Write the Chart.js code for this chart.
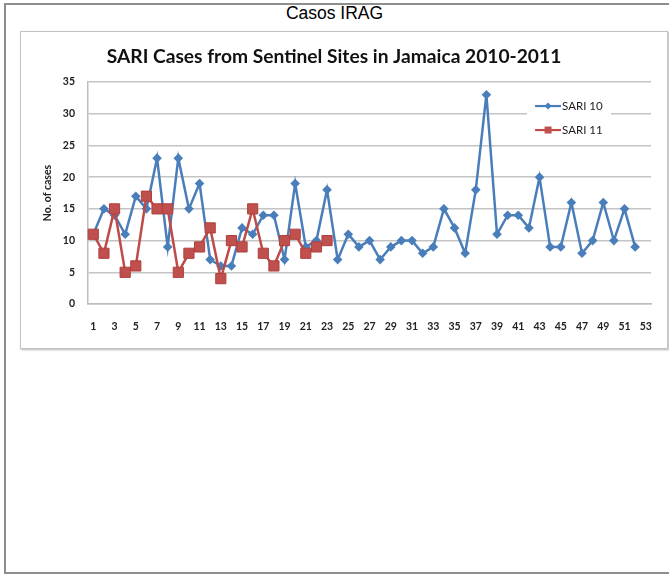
<!DOCTYPE html>
<html>
<head>
<meta charset="utf-8">
<script src="https://cdn.jsdelivr.net/npm/chart.js@4/dist/chart.umd.min.js"></script>
<style>
  html, body { margin: 0; padding: 0; background: #fff; overflow: hidden; }
  body { width: 669px; height: 574px; position: relative; }
  #frame { position: absolute; left: 4px; top: 3px; width: 720px; height: 571px;
           box-sizing: border-box; border: 2px solid #8e8e8e; }
  #heading { position: absolute; left: 0; width: 669px; top: 3px; text-align: center;
             font-family: "Liberation Sans", Arial, sans-serif; font-size: 17.5px; color: #000; }
  #panel { position: absolute; left: 20px; top: 31px; width: 648px; height: 318px;
           box-sizing: border-box; border: 1px solid #c4c4c4; background: #fff;
           box-shadow: 1px 1px 2px rgba(0,0,0,0.3); }
  #chart { position: absolute; left: 16px; top: 32px; }
</style>
</head>
<body>
<div id="frame"></div>
<div id="heading">Casos IRAG</div>
<div id="panel"></div>
<canvas id="chart" width="652" height="316"></canvas>
<script>
// Epidemiological weeks
const weeks = ['1','2','3','4','5','6','7','8','9','10','11','12','13','14','15','16','17','18',
  '19','20','21','22','23','24','25','26','27','28','29','30','31','32','33','34','35','36',
  '37','38','39','40','41','42','43','44','45','46','47','48','49','50','51','52','53'];

// Weekly SARI cases, 2010
const sari10 = [11, 15, 14, 11, 17, 15, 23, 9, 23, 15, 19, 7, 6, 6, 12, 11, 14, 14, 7, 19,
  9, 10, 18, 7, 11, 9, 10, 7, 9, 10, 10, 8, 9, 15, 12, 8, 18, 33, 11, 14, 14, 12, 20, 9,
  9, 16, 8, 10, 16, 10, 15, 9];

// Weekly SARI cases, 2011 (to date)
const sari11 = [11, 8, 15, 5, 6, 17, 15, 15, 5, 8, 9, 12, 4, 10, 9, 15, 8, 6, 10, 11, 8, 9, 10];

const yTicks = [0, 5, 10, 15, 20, 25, 30, 35];

const seriesNames = ['SARI 10', 'SARI 11'];

const BLUE = '#4a7ebb';
const RED = '#be4b48';

// Legend drawn inside the plot area, with a white box over the gridlines
const insetLegend = {
  id: 'insetLegend',
  afterDatasetsDraw(chart, args, opts) {
    const { ctx, chartArea } = chart;
    const r = chartArea.right, t = chartArea.top;
    ctx.save();
    ctx.fillStyle = '#ffffff';
    ctx.fillRect(r - 124, t + 10, 84, 50);
    chart.data.datasets.forEach((ds, i) => {
      const y = t + 24 + i * 24;
      const x1 = r - 116, x2 = r - 90, xm = (x1 + x2) / 2;
      ctx.strokeStyle = ds.borderColor;
      ctx.lineWidth = 2.2;
      ctx.beginPath();
      ctx.moveTo(x1, y); ctx.lineTo(x2, y);
      ctx.stroke();
      ctx.fillStyle = ds.backgroundColor;
      ctx.beginPath();
      if (ds.pointStyle === 'rectRot') {
        ctx.moveTo(xm, y - 3.5); ctx.lineTo(xm + 3.5, y); ctx.lineTo(xm, y + 3.5); ctx.lineTo(xm - 3.5, y);
        ctx.closePath();
      } else {
        ctx.rect(xm - 3.5, y - 3.5, 7, 7);
      }
      ctx.fill();
      ctx.fillStyle = '#222';
      ctx.font = '11.5px Lato, "Liberation Sans", sans-serif';
      ctx.textBaseline = 'middle';
      ctx.textAlign = 'left';
      ctx.fillText(ds.label, x2 + 1, y + 0.5);
    });
    ctx.restore();
  }
};

new Chart(document.getElementById('chart'), {
  type: 'line',
  data: {
    labels: weeks,
    datasets: [
      {
        label: seriesNames[0],
        data: sari10,
        borderColor: BLUE,
        backgroundColor: BLUE,
        borderWidth: 2.5,
        pointStyle: 'rectRot',
        pointRadius: 4.8,
        pointBorderWidth: 0,
        tension: 0,
        order: 1
      },
      {
        label: seriesNames[1],
        data: sari11,
        borderColor: RED,
        backgroundColor: '#c0504d',
        pointBorderColor: '#b0403d',
        borderWidth: 2.5,
        pointStyle: 'rect',
        pointRadius: 7.2,
        pointBorderWidth: 1,
        tension: 0,
        order: 0
      }
    ]
  },
  options: {
    responsive: false,
    animation: false,
    layout: { padding: { left: 0, right: 16, top: 0, bottom: 0 } },
    plugins: {
      legend: { display: false },
      tooltip: { enabled: false },
      title: {
        display: true,
        text: 'SARI Cases from Sentinel Sites in Jamaica 2010-2011',
        color: '#111',
        font: { family: 'Lato, "Liberation Sans", sans-serif', size: 19.2, weight: 'bold' },
        padding: { top: 13.5, bottom: 13.5 }
      }
    },
    scales: {
      x: {
        offset: true,
        grid: { display: false, drawTicks: false },
        border: { display: true, color: '#bdbdbd', width: 1.5 },
        ticks: {
          autoSkip: false,
          maxRotation: 0,
          padding: 16,
          color: '#222',
          font: { family: 'Lato, "Liberation Sans", sans-serif', size: 10.5, weight: 'bold' },
          callback: function (v, i) { return i % 2 === 0 ? weeks[i] : ''; }
        },
        afterFit: s => { s.height = 44; }
      },
      y: {
        min: 0,
        max: 35,
        afterBuildTicks: s => { s.ticks = yTicks.map(v => ({ value: v })); },
        grid: { color: '#c4c4c4', lineWidth: 1.5, drawTicks: false },
        border: { display: true, color: '#bdbdbd', width: 1.5 },
        ticks: {
          padding: 13,
          color: '#222',
          font: { family: 'Lato, "Liberation Sans", sans-serif', size: 10.5, weight: 'bold' }
        },
        title: {
          display: true,
          text: 'No. of cases',
          color: '#222',
          font: { family: 'Lato, "Liberation Sans", sans-serif', size: 10.5, weight: 'bold' },
          padding: { top: 25, bottom: 0 }
        },
        afterFit: s => { s.width = 72; }
      }
    }
  },
  plugins: [insetLegend]
});
</script>
</body>
</html>
